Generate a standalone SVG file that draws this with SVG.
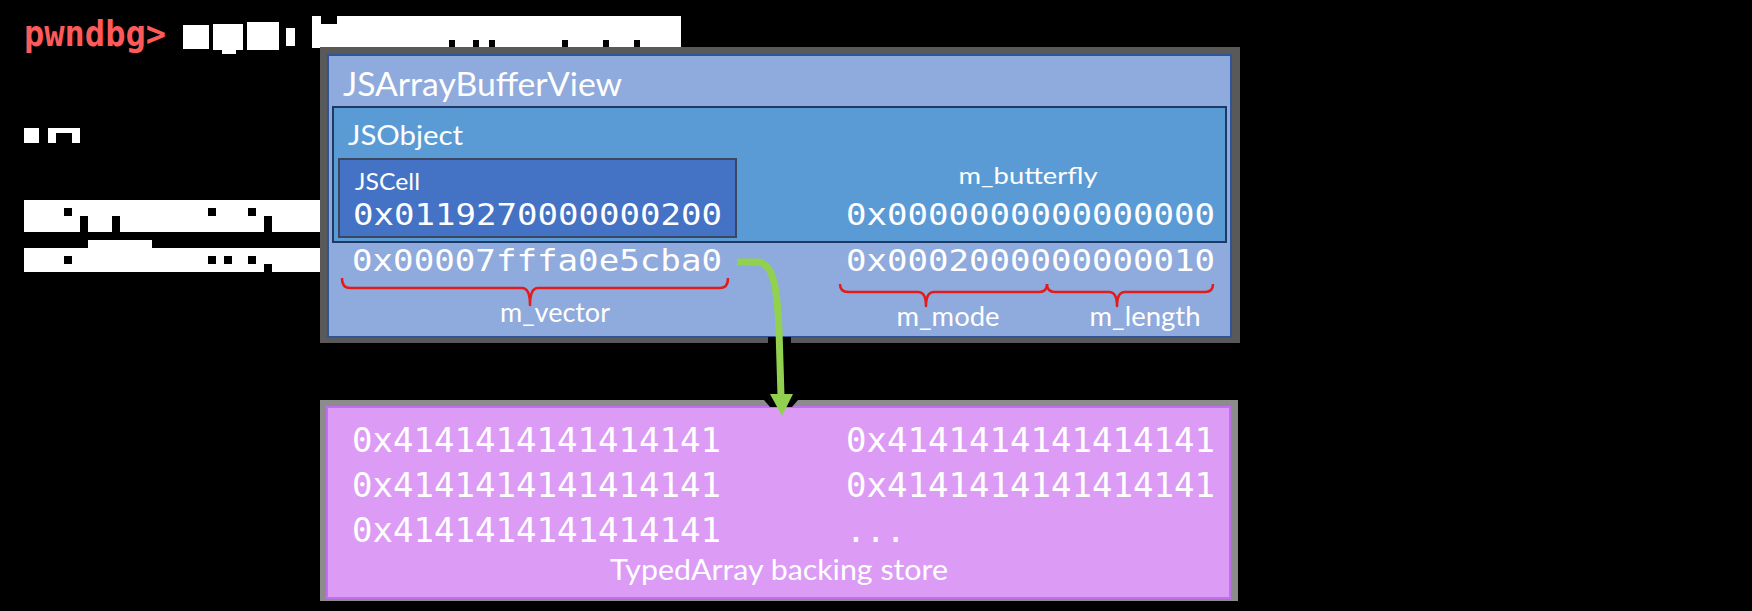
<svg xmlns="http://www.w3.org/2000/svg" width="1752" height="611" viewBox="0 0 1752 611">
<style>
.lbl{font-family:Lato,"Open Sans","Liberation Sans",sans-serif;fill:#ffffff}
.mono{font-family:"DejaVu Sans Mono","Liberation Mono",monospace;fill:#ffffff;font-size:33px}
.mono2{font-family:"DejaVu Sans Mono","Liberation Mono",monospace;fill:#ffffff;font-size:30px}
.brace{fill:none;stroke:#e31b1b;stroke-width:2.5;stroke-linejoin:round}
.redact{fill:#ffffff}
.notch{fill:#000000}
</style>
<rect x="0" y="0" width="1752" height="611" fill="#000000"/>

<g id="prompt">
  <text x="24" y="46" font-family="'DejaVu Sans Mono','Liberation Mono',monospace" font-size="35" font-weight="bold" fill="#ff5a5a" textLength="142" lengthAdjust="spacingAndGlyphs">pwndbg&gt;</text>
  <rect class="redact" x="183" y="25" width="26" height="24"/>
  <rect class="redact" x="213" y="24" width="30" height="26"/>
  <rect class="redact" x="222" y="48" width="14" height="6"/>
  <rect class="redact" x="247" y="22" width="32" height="28"/>
  <rect class="redact" x="286" y="28" width="9" height="18"/>
  <rect class="redact" x="312" y="16" width="369" height="32"/>
  <rect class="notch" x="321" y="16" width="16" height="8"/>
  <rect class="notch" x="449" y="40" width="6" height="8"/>
  <rect class="notch" x="473" y="40" width="6" height="8"/>
  <rect class="notch" x="489" y="40" width="6" height="8"/>
  <rect class="notch" x="562" y="40" width="6" height="8"/>
  <rect class="notch" x="603" y="40" width="6" height="8"/>
  <rect class="notch" x="634" y="40" width="6" height="8"/>
  <rect class="redact" x="24" y="128" width="15" height="15"/>
  <rect class="redact" x="48" y="128" width="32" height="15"/>
  <rect class="notch" x="56" y="133" width="16" height="10"/>
  <rect class="redact" x="24" y="200" width="300" height="32"/>
  <rect class="notch" x="64" y="208" width="8" height="8"/>
  <rect class="notch" x="80" y="216" width="8" height="16"/>
  <rect class="notch" x="112" y="216" width="8" height="16"/>
  <rect class="notch" x="208" y="208" width="8" height="8"/>
  <rect class="notch" x="248" y="208" width="8" height="8"/>
  <rect class="notch" x="264" y="216" width="8" height="16"/>
  <rect class="redact" x="88" y="240" width="64" height="8"/>
  <rect class="redact" x="24" y="248" width="300" height="24"/>
  <rect class="notch" x="64" y="256" width="8" height="8"/>
  <rect class="notch" x="208" y="256" width="8" height="8"/>
  <rect class="notch" x="224" y="256" width="8" height="8"/>
  <rect class="notch" x="248" y="256" width="8" height="8"/>
  <rect class="notch" x="264" y="264" width="8" height="8"/>
</g>

<g id="jsarraybufferview">
  <rect x="320" y="47" width="920" height="296" fill="#595959"/>
  <rect x="328" y="55" width="903" height="282" fill="#8faadc" stroke="#2f5597" stroke-width="2"/>
  <text class="lbl" x="343" y="96" font-size="32" textLength="279" lengthAdjust="spacingAndGlyphs">JSArrayBufferView</text>
  <text class="mono2" x="352" y="271" textLength="370" lengthAdjust="spacingAndGlyphs">0x00007fffa0e5cba0</text>
  <text class="mono2" x="846" y="271" textLength="369" lengthAdjust="spacingAndGlyphs">0x0002000000000010</text>
  <path class="brace" d="M342,278 Q342,288 350,288 H522 Q530,288 530,305 Q530,288 538,288 H720 Q728,288 728,278"/>
  <path class="brace" d="M840,284 Q840,292 848,292 H918 Q926,292 926,306 Q926,292 934,292 H1039 Q1047,292 1047,284"/>
  <path class="brace" d="M1047,284 Q1047,292 1055,292 H1109 Q1117,292 1117,306 Q1117,292 1125,292 H1205 Q1213,292 1213,284"/>
  <text class="lbl" x="555" y="322" font-size="26" text-anchor="middle" textLength="110" lengthAdjust="spacingAndGlyphs">m_vector</text>
  <text class="lbl" x="948" y="326" font-size="26" text-anchor="middle" textLength="103" lengthAdjust="spacingAndGlyphs">m_mode</text>
  <text class="lbl" x="1145" y="326" font-size="26" text-anchor="middle" textLength="111" lengthAdjust="spacingAndGlyphs">m_length</text>
</g>

<g id="jsobject">
  <rect x="333" y="107" width="893" height="135" fill="#5b9bd5" stroke="#1f3864" stroke-width="2"/>
  <text class="lbl" x="348" y="145" font-size="27" textLength="115" lengthAdjust="spacingAndGlyphs">JSObject</text>
  <text class="lbl" x="1028" y="184" font-size="24" text-anchor="middle" textLength="139" lengthAdjust="spacingAndGlyphs">m_butterfly</text>
  <text class="mono2" x="846" y="225" textLength="369" lengthAdjust="spacingAndGlyphs">0x0000000000000000</text>
</g>

<g id="jscell">
  <rect x="339" y="159" width="397" height="78" fill="#4472c4" stroke="#3b4660" stroke-width="2"/>
  <text class="lbl" x="355" y="190" font-size="24" textLength="65" lengthAdjust="spacingAndGlyphs">JSCell</text>
  <text class="mono2" x="353" y="225" textLength="369" lengthAdjust="spacingAndGlyphs">0x0119270000000200</text>
</g>

<g id="backing-store">
  <rect x="320" y="400" width="918" height="201" fill="#8c8c8c"/>
  <rect x="327" y="407" width="903" height="191" fill="#dc9cf5" stroke="#c070ee" stroke-width="2"/>
  <text class="mono" x="352" y="452" textLength="369" lengthAdjust="spacingAndGlyphs">0x4141414141414141</text>
  <text class="mono" x="846" y="452" textLength="369" lengthAdjust="spacingAndGlyphs">0x4141414141414141</text>
  <text class="mono" x="352" y="497" textLength="369" lengthAdjust="spacingAndGlyphs">0x4141414141414141</text>
  <text class="mono" x="846" y="497" textLength="369" lengthAdjust="spacingAndGlyphs">0x4141414141414141</text>
  <text class="mono" x="352" y="542" textLength="369" lengthAdjust="spacingAndGlyphs">0x4141414141414141</text>
  <text class="mono" x="846" y="542">...</text>
  <text class="lbl" x="779" y="580" font-size="28" text-anchor="middle" textLength="338" lengthAdjust="spacingAndGlyphs">TypedArray backing store</text>
</g>

<g id="connectors">
  <rect x="768" y="337" width="23" height="7" fill="#000000"/>
  <polygon points="764,400 798,400 792,407 770,407" fill="#000000"/>
  <path d="M737,262 H757 C772,262 777,282 779,330 L781,396" fill="none" stroke="#92d050" stroke-width="7" stroke-linejoin="round"/>
  <polygon points="770,394 793,394 782,416" fill="#92d050"/>
</g>
</svg>
